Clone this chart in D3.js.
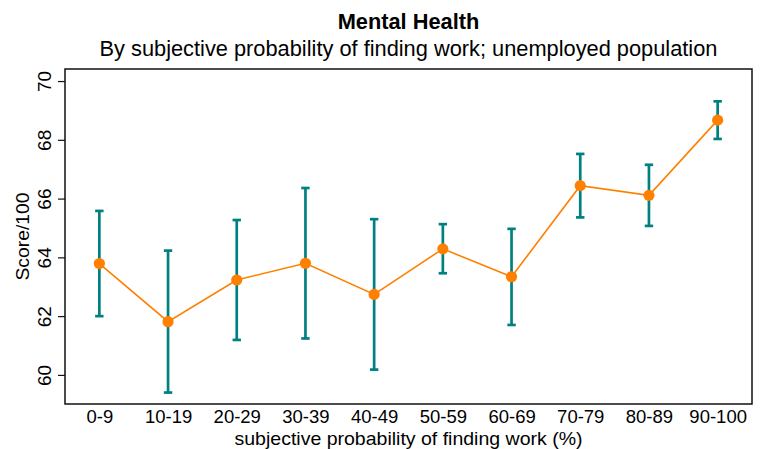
<!DOCTYPE html>
<html>
<head>
<meta charset="utf-8">
<script src="https://cdn.jsdelivr.net/npm/d3@7"></script>
<style>
  html, body { margin: 0; padding: 0; background: #fff; }
  svg { display: block; font-family: "Liberation Sans", Arial, sans-serif; }
</style>
</head>
<body>
<svg id="chart" width="770" height="449"></svg>
<script>
// Mean mental health score with 95% confidence intervals, by bracket
const categories = ["0-9", "10-19", "20-29", "30-39", "40-49", "50-59", "60-69", "70-79", "80-89", "90-100"];
const meanScore  = [63.79, 61.81, 63.23, 63.80, 62.74, 64.29, 63.34, 66.44, 66.11, 68.67];
const ciLower    = [62.00, 59.40, 61.19, 61.24, 60.18, 63.46, 61.70, 65.36, 65.07, 68.03];
const ciUpper    = [65.58, 64.23, 65.27, 66.36, 65.30, 65.13, 64.97, 67.52, 67.15, 69.31];
const yTicks     = [60, 62, 64, 66, 68, 70];

const titleText    = "Mental Health";
const subtitleText = "By subjective probability of finding work; unemployed population";
const xTitle       = "subjective probability of finding work (%)";
const yTitle       = "Score/100";

const rows = categories.map((c, i) => ({ cat: c, mean: meanScore[i], lo: ciLower[i], hi: ciUpper[i] }));

const svg = d3.select("#chart");
const plot = { left: 65, top: 69, right: 752, bottom: 404 };

const x = d3.scalePoint().domain(categories).range([plot.left, plot.right]).padding(0.5);
const y = d3.scaleLinear().domain([59.01, 70.41]).range([plot.bottom, plot.top]);

const teal = "#008080", orange = "#ff8000";

// plot frame
svg.append("rect")
  .attr("x", plot.left).attr("y", plot.top)
  .attr("width", plot.right - plot.left).attr("height", plot.bottom - plot.top)
  .attr("fill", "none").attr("stroke", "#111").attr("stroke-width", 1.5);

// y axis
const yAxis = svg.append("g")
  .attr("transform", `translate(${plot.left},0)`)
  .call(d3.axisLeft(y).tickValues(yTicks).tickSize(7).tickPadding(0).tickFormat(d3.format("d")));
yAxis.select(".domain").remove();
yAxis.selectAll(".tick line").attr("stroke", "#111").attr("stroke-width", 1.2);
yAxis.selectAll(".tick text").remove();
yAxis.selectAll(".tick").append("text")
  .attr("transform", "translate(-14,0) rotate(-90)")
  .attr("text-anchor", "middle")
  .attr("fill", "#000")
  .style("font-size", "19px")
  .text(d => d);

// x axis (labels only)
const xAxis = svg.append("g")
  .attr("transform", `translate(0,${plot.bottom})`)
  .call(d3.axisBottom(x).tickSize(0).tickPadding(0));
xAxis.select(".domain").remove();
xAxis.selectAll(".tick text")
  .attr("y", 18.5).attr("dy", 0)
  .attr("fill", "#000")
  .style("font-size", "18.5px");

// error bars
const capHalf = 4.2;
const eb = svg.append("g").attr("stroke", teal).attr("stroke-width", 2.7).attr("fill", "none");
eb.selectAll("line.stem").data(rows).join("line").attr("class", "stem")
  .attr("x1", d => x(d.cat)).attr("x2", d => x(d.cat))
  .attr("y1", d => y(d.lo)).attr("y2", d => y(d.hi));
eb.selectAll("line.capHi").data(rows).join("line").attr("class", "capHi")
  .attr("x1", d => x(d.cat) - capHalf).attr("x2", d => x(d.cat) + capHalf)
  .attr("y1", d => y(d.hi)).attr("y2", d => y(d.hi));
eb.selectAll("line.capLo").data(rows).join("line").attr("class", "capLo")
  .attr("x1", d => x(d.cat) - capHalf).attr("x2", d => x(d.cat) + capHalf)
  .attr("y1", d => y(d.lo)).attr("y2", d => y(d.lo));

// mean line and markers
svg.append("path").datum(rows)
  .attr("fill", "none").attr("stroke", orange).attr("stroke-width", 1.6)
  .attr("d", d3.line().x(d => x(d.cat)).y(d => y(d.mean)));
svg.append("g").selectAll("circle").data(rows).join("circle")
  .attr("cx", d => x(d.cat)).attr("cy", d => y(d.mean)).attr("r", 5.6)
  .attr("fill", orange);

// titles
const cx = (plot.left + plot.right) / 2;
svg.append("text").attr("x", cx).attr("y", 29).attr("text-anchor", "middle")
  .style("font-size", "21.8px").style("font-weight", "bold").text(titleText);
svg.append("text").attr("x", cx).attr("y", 56).attr("text-anchor", "middle")
  .style("font-size", "21.8px").text(subtitleText);
svg.append("text").attr("x", cx).attr("y", 444.5).attr("text-anchor", "middle")
  .attr("textLength", 348).attr("lengthAdjust", "spacingAndGlyphs")
  .style("font-size", "18.5px").text(xTitle);
svg.append("text")
  .attr("transform", `translate(29,${(plot.top + plot.bottom) / 2}) rotate(-90)`)
  .attr("text-anchor", "middle")
  .attr("textLength", 88).attr("lengthAdjust", "spacingAndGlyphs")
  .style("font-size", "18.5px").text(yTitle);
</script>
</body>
</html>
